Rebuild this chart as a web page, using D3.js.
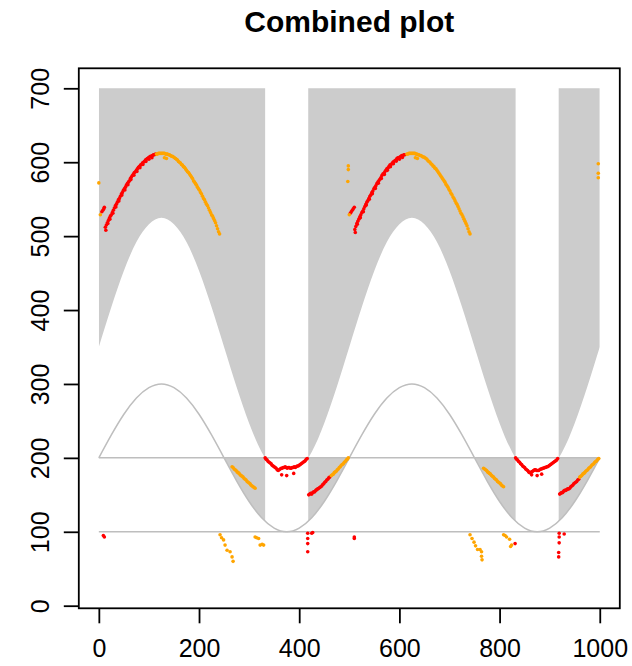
<!DOCTYPE html>
<html>
<head>
<meta charset="utf-8">
<script src="https://cdn.jsdelivr.net/npm/d3@7"></script>
<style>
  body { margin: 0; background: #ffffff; }
  svg { display: block; }
  text { font-family: "Liberation Sans", Arial, Helvetica, sans-serif; fill: #000; }
</style>
</head>
<body>
<svg id="chart" width="632" height="666"></svg>
<script>
// ---- axis ticks ----
const xTicks = [0, 200, 400, 600, 800, 1000];
const yTicks = [0, 100, 200, 300, 400, 500, 600, 700];

// ---- band outlines (sampled every 25 units) ----
const curveX = [0, 25, 50, 75, 100, 125, 150, 175, 200, 225, 250, 275, 300, 325, 350, 375, 400, 425, 450, 475,
  500, 525, 550, 575, 600, 625, 650, 675, 700, 725, 750, 775, 800, 825, 850, 875, 900, 925, 950, 975, 1000];
const upperEdge = [350, 404, 453, 492, 516, 525, 516, 492, 453, 404, 350, 296, 247, 208, 184, 175, 184, 208, 247, 296,
  350, 404, 453, 492, 516, 525, 516, 492, 453, 404, 350, 296, 247, 208, 184, 175, 184, 208, 247, 296, 350];
const midCurve = [200, 231, 259, 281, 295, 300, 295, 281, 259, 231, 200, 169, 141, 119, 105, 100, 105, 119, 141, 169,
  200, 231, 259, 281, 295, 300, 295, 281, 259, 231, 200, 169, 141, 119, 105, 100, 105, 119, 141, 169, 200];
const topLevel = 700;
const refLevels = [100, 200];
const gaps = [[332, 418], [832, 918]];

// ---- red observations ----
const redArcA = [[13,512],[15,515],[17,518],[19,521],[21,524],[23,527],[25,529],[27,532],[29,535],[31,538],[33,541],[35,543],
  [37,546],[39,549],[41,551],[43,554],[45,557],[47,559],[49,562],[51,564],[53,566],[55,569],[57,571],[59,573],[61,575],[63,578],
  [65,580],[67,582],[69,584],[71,586],[73,587],[75,589],[77,591],[79,593],[81,594],[83,596],[85,597],[87,599],[89,600],[91,601],
  [93,603],[95,604],[97,605],[99,606],[101,607],[103,608],[105,608],[107,609],[109,610],[111,610],[113,611],
  [14,508],[18,517],[22,523],[28,531],[34,539.5],[40,547.5],[46,555.5],[52,562.5],[58,569.5],[64,576.5],[70,582.5],[76,587.5],
  [82,592.5],[88,597],[94,601],[100,604],[106,606]];
const redArcB = [[511,509],[513,513],[515,517],[517,520],[519,523],[521,526],[523,529],[525,532],[527,534],[529,537],[531,540],
  [533,543],[535,546],[537,548],[539,551],[541,554],[543,556],[545,559],[547,561],[549,564],[551,566],[553,568],[555,571],[557,573],
  [559,575],[561,577],[563,579],[565,582],[567,584],[569,585],[571,587],[573,589],[575,591],[577,592],[579,594],[581,596],[583,597],
  [585,598],[587,600],[589,601],[591,602],[593,603],[595,605],[597,606],[599,606],[601,607],[603,608],[605,609],[607,609],[609,610],[611,610],
  [512,505],[516,516],[522,525],[528,533],[534,542],[540,550],[546,557.5],[552,564.5],[558,571.5],[564,578],[570,583.5],[576,589],
  [582,594],[588,598],[594,601.5],[600,604],[606,606.5]];
const redDipA = [[332,200],[334,198],[336,197],[338,195],[340,194],[342,193],[344,192],[346,190],[348,189],[350,188],[352,187],
  [354,186],[356,184],[358,183],[360,184],[362,185],[364,186],[366,186],[368,187],[370,187],[372,188],[374,187],[376,186],[378,187],
  [380,187],[382,186],[384,186],[386,187],[388,187],[390,188],[392,187],[394,188],[396,189],[398,189],[400,190],[402,191],[404,192],
  [406,193],[408,194],[410,195],[412,196],[414,198],[416,199],[365,177],[375,176],[389,179]];
const redDipB = [[832,200],[834,198],[836,197],[838,195],[840,194],[842,192],[844,191],[846,189],[848,188],[850,187],[852,185],
  [854,184],[856,183],[858,181],[860,180],[862,180],[864,181],[866,182],[868,183],[870,184],[872,184],[874,183],[876,183],[878,183],
  [880,184],[882,185],[884,185],[886,186],[888,186],[890,187],[892,187],[894,188],[896,188],[898,189],[900,190],[902,191],[904,192],
  [906,193],[908,194],[910,195],[912,196],[914,197],[916,199],[864,177],[875,176],[884,178]];
const redRiseA = [[419,150],[421,151],[423,152],[425,151],[427,153],[429,154],[431,154],[433,156],[435,157],[437,158],[439,159],
  [441,160],[443,161],[445,162],[447,164],[449,165],[451,167],[453,168],[455,170],[457,171],[459,173],[461,174]];
const redRiseB = [[920,151],[922,152],[924,153],[926,153],[928,155],[930,156],[932,156],[934,157],[936,158],[938,158],[940,159],
  [942,161],[944,162],[946,163],[948,165],[950,166],[952,167],[954,168],[956,170],[958,171]];
const redScatter = [[6,533],[8,535],[10,537],[11,539],[9,95],[11,93],[502,531],[504,533],[506,535],[508,537],[510,539],
  [417,98],[417,91],[417,84],[417,73],[425,98],[427,99],[510,93],[510,91],
  [919,98],[919,93],[919,85],[918,72],[918,66],[929,97],[831,84]];

// ---- orange observations ----
const orangeArcA = [[115,611],[117,611],[119,612],[121,612],[123,612],[125,612],[127,612],[129,612],[131,612],[133,611],[135,611],
  [137,611],[139,610],[141,610],[143,609],[145,608],[147,608],[149,607],[151,606],[153,605],[155,604],[157,603],[159,601],[161,600],
  [163,599],[165,597],[167,596],[169,594],[171,593],[173,591],[175,589],[177,587],[179,586],[181,584],[183,582],[185,580],[187,578],
  [189,575],[191,573],[193,571],[195,569],[197,566],[199,564],[201,562],[203,559],[205,557],[207,554],[209,551],[211,549],[213,546],
  [215,543],[217,541],[219,538],[221,535],[223,532],[225,529],[227,527],[229,524],[231,521],[233,518],[235,514],[237,510],[239,506],
  [241,503],[131,606],[135,605]];
const orangeArcB = [[615,611],[617,611],[619,612],[621,612],[623,612],[625,612],[627,612],[629,612],[631,612],[633,611],[635,611],
  [637,610],[639,610],[641,609],[643,609],[645,608],[647,607],[649,607],[651,606],[653,605],[655,604],[657,602],[659,601],[661,600],
  [663,598],[665,597],[667,595],[669,594],[671,592],[673,591],[675,589],[677,587],[679,585],[681,583],[683,581],[685,579],[687,577],
  [689,575],[691,573],[693,570],[695,568],[697,566],[699,563],[701,561],[703,558],[705,556],[707,553],[709,551],[711,548],[713,545],
  [715,543],[717,540],[719,537],[721,534],[723,531],[725,529],[727,526],[729,523],[731,520],[733,517],[735,514],[737,510],[739,506],
  [741,503],[632,606],[636,605]];
const orangeFallA = [[266,188],[268,187],[270,185],[272,184],[274,183],[276,181],[278,180],[280,179],[282,177],[284,176],[286,175],
  [288,174],[290,172],[292,171],[294,170],[296,168],[298,167],[300,166],[302,165],[304,163],[306,162],[308,161],[310,160],[312,159]];
const orangeFallB = [[768,186],[770,185],[772,184],[774,183],[776,181],[778,180],[780,179],[782,178],[784,176],[786,175],[788,174],
  [790,172],[792,171],[794,170],[796,168],[798,167],[800,166],[802,165],[804,163],[806,162],[808,161]];
const orangeRiseA = [[464,176],[466,177],[468,178],[470,180],[472,181],[474,182],[476,184],[478,185],[480,187],[482,188],[484,190],
  [486,191],[488,192],[490,194],[492,195],[494,197],[496,198],[498,200]];
const orangeRiseB = [[960,174],[962,175],[964,176],[966,178],[968,179],[970,180],[972,182],[974,183],[976,184],[978,186],[980,187],
  [982,188],[984,190],[986,191],[988,192],[990,194],[992,195],[994,196],[996,198],[998,199]];
const orangeScatter = [[0,572],[3,529],[498,595],[498,590],[497,574],[500,529],[997,598],[997,585],[997,579],
  [242,96],[245,92],[249,89],[252,82],[256,75],[262,73],[266,66],[268,60],[312,93],[315,92],[319,91],[322,82],[326,83],[329,82],
  [741,96],[745,91],[749,86],[752,81],[756,76],[761,76],[764,73],[764,67],[765,62],
  [808,96],[811,95],[814,93],[820,90],[824,82],[822,80]];

const redPoints = [].concat(redArcA, redArcB, redDipA, redDipB, redRiseA, redRiseB, redScatter);
const orangePoints = [].concat(orangeArcA, orangeArcB, orangeFallA, orangeFallB, orangeRiseA, orangeRiseB, orangeScatter);

// ---- layout ----
const svg = d3.select("#chart");
const box = { left: 78.8, right: 619.8, top: 68.3, bottom: 608.3 };
const x = d3.scaleLinear().domain([-40, 1040]).range([box.left, box.right]);
const y = d3.scaleLinear().domain([0, 700]).range([605.7, 88.3]);

const fillGrey = "#cccccc";
const lineGrey = "#bebebe";

// clip regions: everything outside the gaps, and the strip between the two reference levels
const defs = svg.append("defs");
const xMin = curveX[0], xMax = curveX[curveX.length - 1];
const openSpans = [];
let start = xMin;
gaps.forEach(g => { openSpans.push([start, g[0]]); start = g[1]; });
openSpans.push([start, xMax]);

const clipOpen = defs.append("clipPath").attr("id", "clip-open");
openSpans.forEach(s => clipOpen.append("rect")
  .attr("x", x(s[0])).attr("y", 0)
  .attr("width", x(s[1]) - x(s[0])).attr("height", 666));

const clipBand = defs.append("clipPath").attr("id", "clip-band");
clipBand.append("rect")
  .attr("x", 0).attr("y", y(refLevels[1]))
  .attr("width", 632).attr("height", y(refLevels[0]) - y(refLevels[1]) + 2);

const edgeData = curveX.map((v, i) => ({ x: v, u: upperEdge[i], m: midCurve[i] }));

const openLayer = svg.append("g").attr("clip-path", "url(#clip-open)");

// upper shaded band: from the upper edge up to the top level
openLayer.append("path")
  .datum(edgeData)
  .attr("fill", fillGrey)
  .attr("d", d3.area()
    .x(d => x(d.x))
    .y0(y(topLevel))
    .y1(d => y(d.u))
    .curve(d3.curveNatural));

// lower shaded troughs: between the mid curve and the 200 level
openLayer.append("g").attr("clip-path", "url(#clip-band)")
  .append("path")
  .datum(edgeData)
  .attr("fill", fillGrey)
  .attr("d", d3.area()
    .x(d => x(d.x))
    .y0(y(refLevels[1]))
    .y1(d => y(d.m))
    .curve(d3.curveNatural));

// reference levels
svg.append("g").selectAll("line")
  .data(refLevels)
  .join("line")
  .attr("x1", x(xMin)).attr("x2", x(xMax))
  .attr("y1", d => y(d)).attr("y2", d => y(d))
  .attr("stroke", lineGrey).attr("stroke-width", 1.5);

// mid curve
svg.append("path")
  .datum(edgeData)
  .attr("fill", "none")
  .attr("stroke", lineGrey)
  .attr("stroke-width", 1.5)
  .attr("d", d3.line().x(d => x(d.x)).y(d => y(d.m)).curve(d3.curveNatural));

// points
const r = 1.8;
svg.append("g").selectAll("circle")
  .data(redPoints)
  .join("circle")
  .attr("cx", d => x(d[0])).attr("cy", d => y(d[1])).attr("r", r)
  .attr("fill", "#ff0000");
svg.append("g").selectAll("circle")
  .data(orangePoints)
  .join("circle")
  .attr("cx", d => x(d[0])).attr("cy", d => y(d[1])).attr("r", r)
  .attr("fill", "#ffa500");

// frame
svg.append("rect")
  .attr("x", box.left).attr("y", box.top)
  .attr("width", box.right - box.left).attr("height", box.bottom - box.top)
  .attr("fill", "none").attr("stroke", "#000").attr("stroke-width", 1.8);

// axes
const tickLen = 15;
const xAxis = svg.append("g")
  .attr("transform", `translate(0,${box.bottom})`)
  .call(d3.axisBottom(x).tickValues(xTicks).tickSize(tickLen).tickFormat(d3.format("d")));
xAxis.select(".domain").remove();
xAxis.selectAll(".tick line").attr("stroke", "#000").attr("stroke-width", 1.8);
xAxis.selectAll(".tick text")
  .attr("y", 48.5).attr("dy", 0)
  .attr("font-size", 25).attr("fill", "#000");

const yAxis = svg.append("g")
  .attr("transform", `translate(${box.left},0)`)
  .call(d3.axisLeft(y).tickValues(yTicks).tickSize(tickLen).tickFormat(d3.format("d")));
yAxis.select(".domain").remove();
yAxis.selectAll(".tick line").attr("stroke", "#000").attr("stroke-width", 1.8);
yAxis.selectAll(".tick text")
  .attr("x", null).attr("dy", 0)
  .attr("text-anchor", "middle")
  .attr("transform", "translate(-30,0) rotate(-90)")
  .attr("font-size", 25).attr("fill", "#000");

// title
svg.append("text")
  .attr("x", (box.left + box.right) / 2)
  .attr("y", 32)
  .attr("text-anchor", "middle")
  .attr("font-size", 30)
  .attr("font-weight", "bold")
  .text("Combined plot");
</script>
</body>
</html>
